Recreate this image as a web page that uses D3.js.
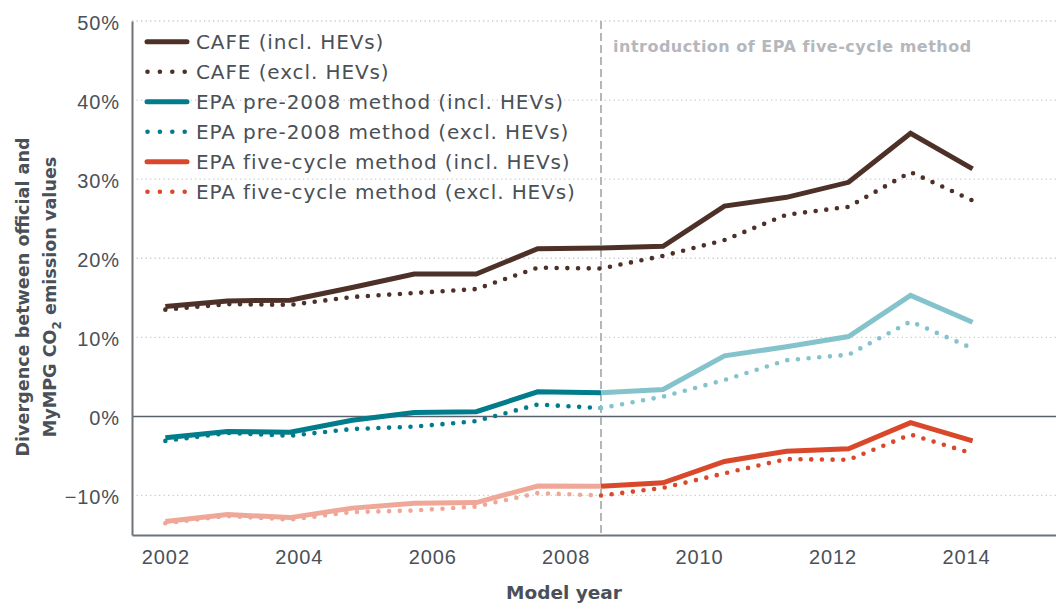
<!DOCTYPE html>
<html>
<head>
<meta charset="utf-8">
<script src="https://cdn.jsdelivr.net/npm/d3@7"></script>
<style>
  body { margin: 0; background: #fff; }
  svg { display: block; font-family: "DejaVu Sans", sans-serif; }
</style>
</head>
<body>
<div id="chart"></div>
<script>
/* data */
var modelYear = [2002.0, 2002.93, 2003.87, 2004.8, 2005.73, 2006.66, 2007.58,
                 2008.53, 2009.46, 2010.38, 2011.31, 2012.24, 2013.17, 2014.1],
    cafeIncl = [13.9, 14.6, 14.7, 16.3, 18.0, 18.0, 21.2, 21.3, 21.5, 26.6, 27.7, 29.6, 35.8, 31.3],
    cafeExcl = [13.5, 14.2, 14.1, 15.1, 15.6, 16.1, 18.8, 18.7, 20.3, 22.3, 25.5, 26.5, 30.9, 27.3],
    pre2008Incl = [-2.7, -1.9, -2.0, -0.5, 0.5, 0.6, 3.1, 3.0, 3.4, 7.65, 8.8, 10.1, 15.3, 11.9],
    pre2008Excl = [-3.1, -2.1, -2.45, -1.6, -1.3, -0.6, 1.5, 1.05, 2.5, 4.6, 7.1, 7.8, 12.0, 8.6],
    fiveCycleIncl = [-13.3, -12.4, -12.8, -11.6, -11.0, -10.9, -8.8, -8.85, -8.4, -5.7, -4.4, -4.1, -0.8, -3.1],
    fiveCycleExcl = [-13.5, -12.6, -13.05, -12.1, -11.9, -11.4, -9.7, -10.0, -9.05, -7.2, -5.4, -5.5, -2.3, -4.7],
    fiveCycleStart = 2008.53,
    splitIndex = 7,
    xTicks = [2002, 2004, 2006, 2008, 2010, 2012, 2014],
    yTicks = [-10, 0, 10, 20, 30, 40, 50],
    legendLabels = ["CAFE (incl. HEVs)", "CAFE (excl. HEVs)",
                    "EPA pre-2008 method (incl. HEVs)", "EPA pre-2008 method (excl. HEVs)",
                    "EPA five-cycle method (incl. HEVs)", "EPA five-cycle method (excl. HEVs)"];

/* colours */
var colCafe = "#4d3027",
    colTeal = "#007c8b",
    colTealLight = "#84c3cc",
    colRed = "#d9482a",
    colRedLight = "#efa898",
    colText = "#4a5058",
    colAxis = "#6e747a",
    colGrid = "#c9ccd0";

/* layout */
var width = 1056,
    height = 604,
    plot = { left: 132, right: 1056, top: 21, bottom: 535 },
    solidWidth = 5,
    dotWidth = 4.6,
    dotPattern = "0,10.7",
    fontSize = "20px",
    spacing = "0.9px";

var svg = d3.select("#chart")
    .append("svg")
    .attr("width", width)
    .attr("height", height);

var x = d3.scaleLinear()
    .domain([2001.5, 2015.35])
    .range([plot.left, plot.right]),
    y = d3.scaleLinear()
    .domain([-15, 50])
    .range([plot.bottom, plot.top]);

/* grid */
svg.append("g")
    .attr("class", "grid")
    .selectAll("line")
    .data(yTicks.filter(d => d !== 0))
    .join("line")
    .attr("x1", plot.left)
    .attr("x2", plot.right)
    .attr("y1", d => y(d))
    .attr("y2", d => y(d))
    .attr("stroke", colGrid)
    .attr("stroke-width", 1.3)
    .attr("stroke-dasharray", "1.3,3.2");

// zero line
svg.append("line")
    .attr("x1", plot.left)
    .attr("x2", plot.right)
    .attr("y1", y(0))
    .attr("y2", y(0))
    .attr("stroke", "#596069")
    .attr("stroke-width", 1.5);

/* axes */
var yAxis = d3.axisLeft(y)
    .tickValues(yTicks)
    .tickSize(0)
    .tickPadding(12)
    .tickFormat(d => (d < 0 ? "\u2212" + Math.abs(d) : d) + "%");

var yAxisG = svg.append("g")
    .attr("transform", "translate(" + plot.left + ",0)")
    .call(yAxis);

var xAxis = d3.axisBottom(x)
    .tickValues(xTicks)
    .tickSize(0)
    .tickPadding(15)
    .tickFormat(d3.format("d"));

var xAxisG = svg.append("g")
    .attr("transform", "translate(0," + plot.bottom + ")")
    .call(xAxis);

[yAxisG, xAxisG].forEach(function(g) {
    g.select(".domain")
        .attr("stroke", colAxis)
        .attr("stroke-width", 2);
    g.selectAll("text")
        .attr("fill", colText)
        .style("font-size", fontSize)
        .style("letter-spacing", spacing);
});
yAxisG.selectAll("text").attr("dy", "0.4em");

/* five-cycle marker */
svg.append("line")
    .attr("x1", x(fiveCycleStart))
    .attr("x2", x(fiveCycleStart))
    .attr("y1", plot.top)
    .attr("y2", plot.bottom)
    .attr("stroke", "#b3b6ba")
    .attr("stroke-width", 2)
    .attr("stroke-dasharray", "8,4");

svg.append("text")
    .attr("x", x(fiveCycleStart) + 12)
    .attr("y", 52)
    .attr("fill", "#b4b7bb")
    .style("font-size", "16px")
    .style("font-weight", "bold")
    .style("letter-spacing", "0.5px")
    .text("introduction of EPA five-cycle method");

/* lines */
var line = d3.line()
    .x(d => x(d.year))
    .y(d => y(d.value));

function pts(values, from, to) {
    return values.map((v, i) => ({ year: modelYear[i], value: v })).slice(from, to + 1);
}

var last = modelYear.length - 1,
    segments = [
        { values: cafeIncl, from: 0, to: last, color: colCafe, dotted: false },
        { values: cafeExcl, from: 0, to: last, color: colCafe, dotted: true },
        { values: pre2008Excl, from: 0, to: splitIndex, color: colTeal, dotted: true },
        { values: pre2008Excl, from: splitIndex, to: last, color: colTealLight, dotted: true },
        { values: pre2008Incl, from: 0, to: splitIndex, color: colTeal, dotted: false },
        { values: pre2008Incl, from: splitIndex, to: last, color: colTealLight, dotted: false },
        { values: fiveCycleExcl, from: 0, to: splitIndex, color: colRedLight, dotted: true },
        { values: fiveCycleExcl, from: splitIndex, to: last, color: colRed, dotted: true },
        { values: fiveCycleIncl, from: 0, to: splitIndex, color: colRedLight, dotted: false },
        { values: fiveCycleIncl, from: splitIndex, to: last, color: colRed, dotted: false }
    ];

svg.append("g")
    .attr("class", "lines")
    .selectAll("path")
    .data(segments)
    .join("path")
    .attr("d", d => line(pts(d.values, d.from, d.to)))
    .attr("fill", "none")
    .attr("stroke", d => d.color)
    .attr("stroke-width", d => d.dotted ? dotWidth : solidWidth)
    .attr("stroke-dasharray", d => d.dotted ? dotPattern : null)
    .attr("stroke-linecap", d => d.dotted ? "round" : "butt")
    .attr("stroke-linejoin", "miter");

/* legend */
var legendColors = [colCafe, colCafe, colTeal, colTeal, colRed, colRed],
    legend = svg.append("g")
    .attr("class", "legend")
    .selectAll("g")
    .data(legendLabels)
    .join("g")
    .attr("transform", (d, i) => "translate(147," + (41.7 + i * 30) + ")");

legend.append("line")
    .attr("x1", (d, i) => i % 2 ? 0.5 : 0)
    .attr("x2", 40)
    .attr("stroke", (d, i) => legendColors[i])
    .attr("stroke-width", (d, i) => i % 2 ? dotWidth : solidWidth)
    .attr("stroke-dasharray", (d, i) => i % 2 ? "0,12.4" : null)
    .attr("stroke-linecap", "round");

legend.append("text")
    .attr("x", 49)
    .attr("dy", "0.36em")
    .attr("fill", colText)
    .style("font-size", fontSize)
    .style("letter-spacing", spacing)
    .text(d => d);

/* titles */
svg.append("text")
    .attr("x", 564)
    .attr("y", 599)
    .attr("text-anchor", "middle")
    .attr("fill", colText)
    .style("font-size", "18.5px")
    .style("font-weight", "bold")
    .text("Model year");

var yTitle = svg.append("text")
    .attr("transform", "translate(29,297) rotate(-90)")
    .attr("text-anchor", "middle")
    .attr("fill", colText)
    .style("font-size", "17.6px")
    .style("font-weight", "bold");

yTitle.append("tspan")
    .attr("x", 0)
    .attr("y", 0)
    .text("Divergence between official and");

var t2 = yTitle.append("tspan")
    .attr("x", 0)
    .attr("y", 27);
t2.append("tspan").text("MyMPG CO");
t2.append("tspan").attr("dy", 5).style("font-size", "12px").text("2");
t2.append("tspan").attr("dy", -5).text(" emission values");
</script>
</body>
</html>
